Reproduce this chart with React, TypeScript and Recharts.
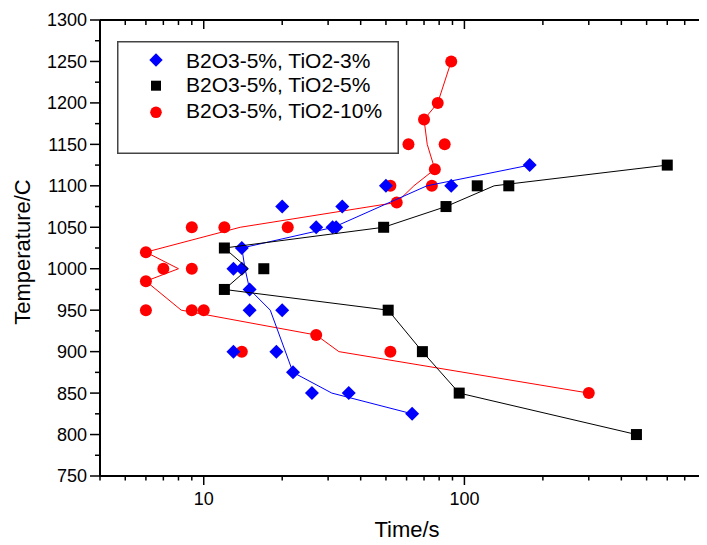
import { ScatterChart, Scatter, XAxis, YAxis, Legend } from "recharts";

const FONT = "'Liberation Sans', Arial, sans-serif";

// measured points, TiO2-3% (blue diamonds)
const blueTime = [20, 14, 13, 14, 15, 15, 20, 13, 19, 22, 26, 36, 63, 27, 31.2, 32.2, 34, 50, 89, 178];
const blueTemp = [1075, 1025, 1000, 1000, 975, 950, 950, 900, 900, 875, 850, 850, 825, 1050, 1050, 1050, 1075, 1100, 1100, 1125];
const blueLineTime = [63, 31, 22, 18, 15, 14.4, 14, 31.5, 71.8, 178];
const blueLineTemp = [825, 850, 875, 950, 975, 1000, 1025, 1050, 1100, 1125];

// TiO2-5% (black squares)
const blackTime = [12, 12, 17, 49, 85, 112, 148, 600, 51, 69, 95.5, 457];
const blackTemp = [1025, 975, 1000, 1050, 1075, 1100, 1100, 1125, 950, 900, 850, 800];
const blackLineTime = [457, 95.5, 69, 51, 12, 14.8, 12, 49, 85, 130, 600];
const blackLineTemp = [800, 850, 900, 950, 975, 1000, 1025, 1050, 1075, 1100, 1125];

// TiO2-10% (red circles)
const redTime = [6, 6, 6, 7, 9, 9, 9, 10, 12, 21, 14, 27, 52, 300, 52, 55, 75, 77, 61, 84, 70, 79, 89];
const redTemp = [1020, 985, 950, 1000, 1000, 1050, 950, 950, 1050, 1050, 900, 920, 900, 850, 1100, 1080, 1100, 1120, 1150, 1150, 1180, 1200, 1250];
const redLineTime = [300, 33, 27, 8.2, 6, 8, 6, 13.8, 55, 64, 77, 72, 70, 79, 89];
const redLineTemp = [850, 900, 920, 950, 985, 1000, 1020, 1050, 1080, 1100, 1120, 1150, 1180, 1200, 1250];

const seriesNames = ["B2O3-5%, TiO2-3%", "B2O3-5%, TiO2-5%", "B2O3-5%, TiO2-10%"];

const xTicks = [4, 5, 6, 7, 8, 9, 10, 20, 30, 40, 50, 60, 70, 80, 90, 100, 200, 300, 400, 500, 600, 700, 800];
const xLabels = [10, 100];
const yTicks = [750, 775, 800, 825, 850, 875, 900, 925, 950, 975, 1000, 1025, 1050, 1075, 1100, 1125, 1150, 1175, 1200, 1225, 1250, 1275, 1300];

const toPoints = (ts: number[], temps: number[]) => ts.map((t, i) => ({ t, T: temps[i] }));

const diamond = (cx: number, cy: number, r: number, fill: string) => (
  <polygon points={`${cx},${cy - r} ${cx + r},${cy} ${cx},${cy + r} ${cx - r},${cy}`} fill={fill} />
);

const Diamond = (p: any) => diamond(p.cx, p.cy, 7, "#0000ff");
const Square = (p: any) => <rect x={p.cx - 5.5} y={p.cy - 5.5} width={11} height={11} fill="#000" />;
const Dot = (p: any) => <circle cx={p.cx} cy={p.cy} r={6} fill="#ff0000" />;
const NoShape = () => <g />;

const LeftTick = ({ x, y, payload }: any) => {
  const major = payload.value % 50 === 0;
  return (
    <g>
      <line x1={x} x2={x - (major ? 10 : 5)} y1={y} y2={y} stroke="#000" strokeWidth={1.5} />
      {major && (
        <text x={x - 13} y={y} dy="0.36em" textAnchor="end" fontSize={18} fontFamily={FONT} fill="#000">
          {payload.value}
        </text>
      )}
    </g>
  );
};

const RightTick = ({ x, y, payload }: any) =>
  payload.value % 50 === 0 ? <line x1={x} x2={x + 3} y1={y} y2={y} stroke="#000" strokeWidth={1.5} /> : <g />;

const BottomTick = ({ x, y, payload }: any) => {
  const major = xLabels.includes(payload.value);
  return (
    <g>
      <line x1={x} x2={x} y1={y} y2={y + (major ? 9 : 4.5)} stroke="#000" strokeWidth={1.5} />
      {major && (
        <text x={x} y={y + 29} textAnchor="middle" fontSize={18} fontFamily={FONT} fill="#000">
          {payload.value}
        </text>
      )}
    </g>
  );
};

const TopTick = ({ x, y, payload }: any) => {
  const major = xLabels.includes(payload.value);
  return <line x1={x} x2={x} y1={y} y2={y + (major ? 9 : 5)} stroke="#000" strokeWidth={1.5} />;
};

const LegendBox = () => (
  <svg width={282} height={113} style={{ display: "block" }}>
    <rect x={0.75} y={0.75} width={280.5} height={111.5} fill="#fff" stroke="#444" strokeWidth={1.5} />
    {diamond(39, 19, 6.7, "#0000ff")}
    <rect x={34} y={39.7} width={10} height={10} fill="#000" />
    <circle cx={39} cy={71.3} r={5.8} fill="#ff0000" />
    {seriesNames.map((n, i) => (
      <text key={n} x={69} y={[26.7, 51.3, 77.3][i]} fontSize={21} fontFamily={FONT} fill="#000">
        {n}
      </text>
    ))}
  </svg>
);

export default function App() {
  return (
    <div style={{ position: "relative", width: 699, height: 537, fontFamily: FONT }}>
      <ScatterChart width={699} height={537} margin={{ top: 11, right: 2, bottom: 68, left: 91 }}>
        <XAxis
          xAxisId="b"
          dataKey="t"
          type="number"
          scale="log"
          domain={[4, 830]}
          allowDataOverflow
          ticks={xTicks}
          interval={0}
          height={1}
          tickSize={0}
          tickMargin={0}
          tickLine={false}
          tick={BottomTick}
          axisLine={{ stroke: "#000", strokeWidth: 2 }}
        />
        <XAxis
          xAxisId="t"
          orientation="top"
          dataKey="t"
          type="number"
          scale="log"
          domain={[4, 830]}
          allowDataOverflow
          ticks={xTicks}
          interval={0}
          height={1}
          tickSize={0}
          tickMargin={0}
          tickLine={false}
          tick={TopTick}
          axisLine={{ stroke: "#000", strokeWidth: 2 }}
        />
        <YAxis
          yAxisId="l"
          dataKey="T"
          type="number"
          domain={[750, 1300]}
          ticks={yTicks}
          interval={0}
          width={1}
          tickSize={0}
          tickMargin={0}
          tickLine={false}
          tick={LeftTick}
          axisLine={{ stroke: "#000", strokeWidth: 2 }}
        />
        <YAxis
          yAxisId="r"
          orientation="right"
          dataKey="T"
          type="number"
          domain={[750, 1300]}
          ticks={yTicks}
          interval={0}
          width={1}
          tickSize={0}
          tickMargin={0}
          tickLine={false}
          tick={RightTick}
          axisLine={false}
        />
        <Legend
          layout="vertical"
          align="center"
          verticalAlign="middle"
          wrapperStyle={{ position: "absolute", left: 109, top: 33, width: 282, height: 113 }}
          content={() => <LegendBox />}
        />
        <Scatter
          xAxisId="b"
          yAxisId="l"
          data={toPoints(redLineTime, redLineTemp)}
          line={{ stroke: "#ff0000", strokeWidth: 1 }}
          shape={NoShape}
          legendType="none"
          isAnimationActive={false}
        />
        <Scatter xAxisId="b" yAxisId="l" name={seriesNames[2]} data={toPoints(redTime, redTemp)} shape={Dot} isAnimationActive={false} />
        <Scatter
          xAxisId="b"
          yAxisId="l"
          data={toPoints(blueLineTime, blueLineTemp)}
          line={{ stroke: "#0000ff", strokeWidth: 1 }}
          shape={NoShape}
          legendType="none"
          isAnimationActive={false}
        />
        <Scatter xAxisId="b" yAxisId="l" name={seriesNames[0]} data={toPoints(blueTime, blueTemp)} shape={Diamond} isAnimationActive={false} />
        <Scatter
          xAxisId="b"
          yAxisId="l"
          data={toPoints(blackLineTime, blackLineTemp)}
          line={{ stroke: "#000", strokeWidth: 1 }}
          shape={NoShape}
          legendType="none"
          isAnimationActive={false}
        />
        <Scatter xAxisId="b" yAxisId="l" name={seriesNames[1]} data={toPoints(blackTime, blackTemp)} shape={Square} isAnimationActive={false} />
      </ScatterChart>
      <div
        style={{
          position: "absolute",
          left: 15,
          top: 244,
          transform: "translate(-50%, -50%) rotate(-90deg)",
          fontSize: 22,
          lineHeight: "22px",
          whiteSpace: "nowrap",
          color: "#000",
        }}
      >
        Temperature/C
      </div>
      <div
        style={{
          position: "absolute",
          left: 399,
          top: 522,
          transform: "translate(-50%, -50%)",
          fontSize: 22,
          lineHeight: "22px",
          whiteSpace: "nowrap",
          color: "#000",
        }}
      >
        Time/s
      </div>
    </div>
  );
}
